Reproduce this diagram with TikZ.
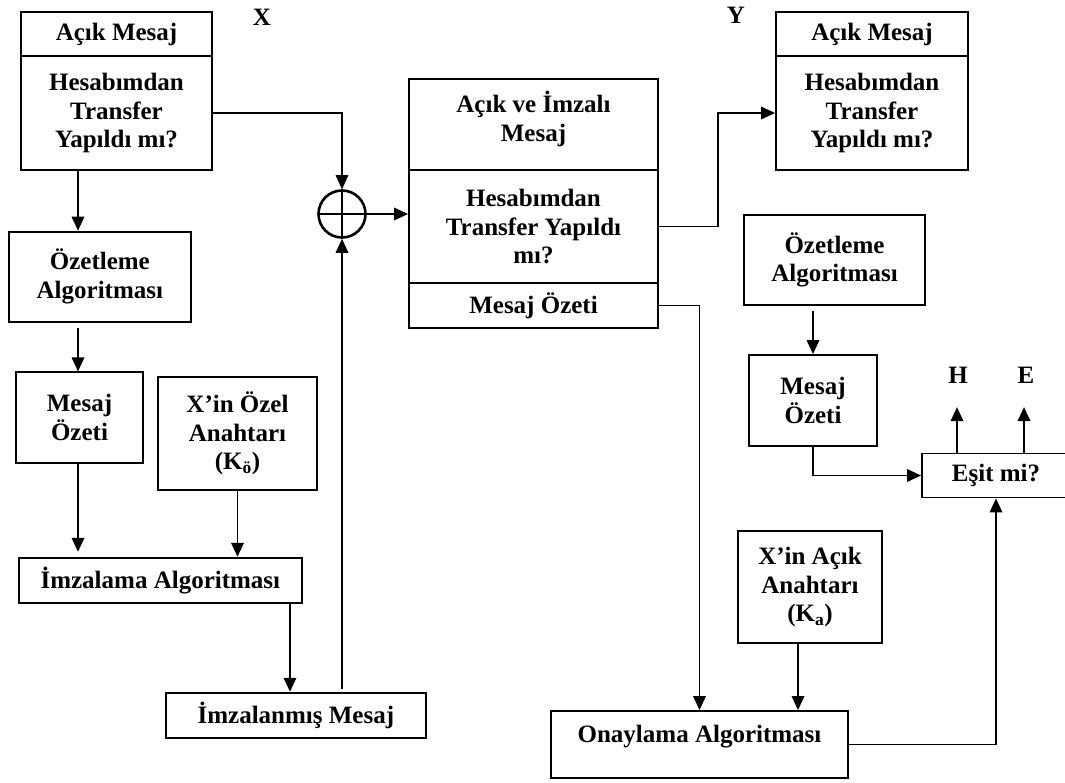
\documentclass[tikz,border=0pt]{standalone}
\usepackage{fontspec}
\setmainfont{Liberation Serif}
\usetikzlibrary{arrows.meta}
\tikzset{
  box/.style={draw, line width=1.8pt, inner sep=0pt, align=center,
    font=\bfseries\fontsize{25}{28.5}\selectfont},
  tag/.style={inner sep=0pt, font=\bfseries\fontsize{25}{25}\selectfont},
  link/.style={line width=1.8pt},
  flow/.style={link, -{Triangle[length=14pt,width=12.5pt]}},
}
\begin{document}
\begin{tikzpicture}[x=1pt,y=-1pt]
\useasboundingbox (0,0) rectangle (1065,782);
\fill[white] (0,0) rectangle (1065,782);

% ---- sender side (X) ----
\node[box, minimum width=191, minimum height=44] (B1top) at (116.5,34) {Açık Mesaj};
\node[box, minimum width=191, minimum height=114] (B1bot) at (116.5,113) {Hesabımdan\\Transfer\\Yapıldı mı?};
\node[tag] (X) at (262,17) {X};

\node[box, minimum width=181.7, minimum height=90] (OzL) at (99.85,276.6) {Özetleme\\Algoritması};
\node[box, minimum width=127.6, minimum height=90.4] (MoL) at (79.5,417.5) {Mesaj\\Özeti};
\node[box, minimum width=158.4, minimum height=113.3] (Ko) at (237.5,433.3) {X’in Özel\\Anahtarı\\(K\textsubscript{ö})};
\node[box, minimum width=282.7, minimum height=45.6] (Imza) at (160.35,580.5) {İmzalama Algoritması};
\node[box, minimum width=260.3, minimum height=45.6] (ImzM) at (295.85,715.5) {İmzalanmış Mesaj};

\node[draw, circle, line width=2.6pt, minimum size=47pt, inner sep=0pt] (xor) at (342,214) {};
\draw[line width=2.6pt] (xor.north) -- (xor.south) (xor.west) -- (xor.east);

% ---- transmitted message ----
\node[box, minimum width=249, minimum height=91] (B2a) at (533.5,124.5) {};
\node[inner sep=0pt, align=center, font=\bfseries\fontsize{25}{28.5}\selectfont] (B2aT) at (533.5,119) {Açık ve İmzalı\\Mesaj};
\node[box, minimum width=249, minimum height=113] (B2b) at (533.5,226.5) {Hesabımdan\\Transfer Yapıldı\\mı?};
\node[box, minimum width=249, minimum height=44.7] (B2c) at (533.5,305.4) {Mesaj Özeti};

% ---- receiver side (Y) ----
\node[box, minimum width=192, minimum height=44] (B3top) at (872,34) {Açık Mesaj};
\node[box, minimum width=192, minimum height=114] (B3bot) at (872,113) {Hesabımdan\\Transfer\\Yapıldı mı?};
\node[tag] (Y) at (736,15) {Y};

\node[box, minimum width=181, minimum height=90] (OzR) at (834.5,260) {Özetleme\\Algoritması};
\node[box, minimum width=128, minimum height=91] (MoR) at (813,400.5) {Mesaj\\Özeti};
\node[box, minimum width=148, minimum height=44] (Esit) at (996,475.5) {Eşit mi?};
\node[box, minimum width=144, minimum height=112] (Ka) at (810,587) {X’in Açık\\Anahtarı\\(K\textsubscript{a})};
\node[box, minimum width=297, minimum height=67] (Onay) at (699.5,744.5) {};
\node[inner sep=0pt, font=\bfseries\fontsize{25}{28.5}\selectfont] (OnayT) at (699.5,737) {Onaylama Algoritması};
\node[tag] (H) at (958,375) {H};
\node[tag] (E) at (1026,375) {E};

% ---- reference columns for vertical connectors ----
\coordinate (lx) at (78,0);
\coordinate (sx) at (290,0);
\coordinate (kx) at (798,0);
\coordinate (hx) at (957,0);
\coordinate (ex) at (1024,0);

% ---- connectors, sender ----
\draw[flow] (B1bot.south -| lx) -- (OzL.north -| lx);
\draw[flow] ([yshift=-5pt]OzL.south -| lx) -- (MoL.north -| lx);
\draw[flow] (MoL.south -| lx) -- ([yshift=5pt]Imza.north -| lx);
\draw[flow] (Ko.south) -- (Ko.south |- Imza.north);
\draw[flow] (Imza.south -| sx) -- (ImzM.north -| sx);
\draw[flow] ([yshift=3pt]ImzM.north -| xor) -- (xor.south);
\draw[flow] (B1bot.east) -| (xor.north);
\draw[flow] (xor.east) -- (xor.east -| B2b.west);

% ---- connectors, receiver ----
\draw[flow] (B2b.east) -- ++(59,0) |- (B3bot.west);
\draw[flow] (B2c.east) -| (Onay.north);
\draw[flow] ([yshift=-5pt]OzR.south -| MoR.north) -- (MoR.north);
\draw[flow] (MoR.south) |- (Esit.west);
\draw[flow] (Esit.north -| hx) -- ++(0,-45.5);
\draw[flow] (Esit.north -| ex) -- ++(0,-45.5);
\draw[flow] (Ka.south -| kx) -- (Onay.north -| kx);
\draw[flow] (Onay.east) -| (Esit.south);
\end{tikzpicture}
\end{document}
